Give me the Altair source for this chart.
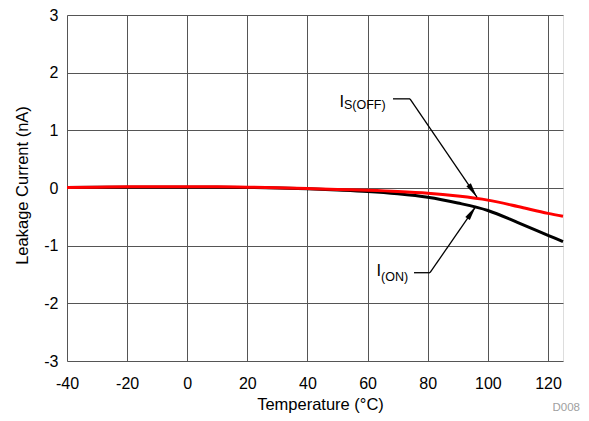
import altair as alt
import pandas as pd

# ---- data ----
temps = [-40, -30, -20, -10, 0, 10, 20, 30, 40, 50, 60, 70, 80, 90, 100, 110, 120, 125]
i_on = [0.01, 0.012, 0.015, 0.015, 0.015, 0.015, 0.01, 0.0, -0.015, -0.035, -0.06,
        -0.1, -0.16, -0.26, -0.39, -0.6, -0.82, -0.93]
is_off = [0.01, 0.015, 0.02, 0.02, 0.02, 0.02, 0.015, 0.005, -0.01, -0.025, -0.04,
          -0.06, -0.09, -0.14, -0.21, -0.32, -0.44, -0.49]
x_ticks = [-40, -20, 0, 20, 40, 60, 80, 100, 120]
y_ticks = [-3, -2, -1, 0, 1, 2, 3]

# annotation anchors (data coordinates)
lead_x = [68.45, 74.1, 75.44, 80.76]
lead_y = [1.546, 1.546, -1.469, -1.469]
tip_x = [96.39, 96.06]
tip_y = [-0.159, -0.313]
head_x = [95.0, 94.66]
head_y = [-0.052, -0.420]
head_angle = [146.0, 34.35]

FONT = "Liberation Sans, Arial, Helvetica, sans-serif"

df_on = pd.DataFrame({"T": temps, "I": i_on})
df_off = pd.DataFrame({"T": temps, "I": is_off})

xs = alt.Scale(domain=[-40, 125], nice=False, zero=False)
ys = alt.Scale(domain=[-3, 3], nice=False, zero=False)

x_enc = alt.X("T:Q", scale=xs, axis=alt.Axis(
    values=x_ticks, title="Temperature (°C)", grid=True, ticks=False, domain=False,
    labelExpr="datum.value + ''",
    labelFontSize=16, labelPadding=14, labelColor="black", labelFont=FONT,
    labelFlush=False,
    titleFontSize=16.5, titleFontWeight="normal", titleColor="black", titleFont=FONT,
    titleX=253, titleY=48.5, titleBaseline="alphabetic", titleAlign="center",
    gridColor="#555", gridWidth=1, gridOpacity=1))
y_enc = alt.Y("I:Q", scale=ys, axis=alt.Axis(
    values=y_ticks, title="Leakage Current (nA)", grid=True, ticks=False, domain=False,
    labelExpr="datum.value + ''",
    labelFontSize=16, labelPadding=9, labelColor="black", labelFont=FONT,
    labelFlush=False,
    titleFontSize=16.5, titleFontWeight="normal", titleColor="black", titleFont=FONT,
    titleX=-40, titleY=170, titleBaseline="alphabetic", titleAlign="center", titleAngle=270,
    gridColor="#555", gridWidth=1, gridOpacity=1))

line_on = alt.Chart(df_on).mark_line(color="black", strokeWidth=3, interpolate="monotone").encode(
    x=x_enc, y=y_enc)
line_off = alt.Chart(df_off).mark_line(color="#ff0000", strokeWidth=3, interpolate="monotone").encode(
    x=alt.X("T:Q", scale=xs), y=alt.Y("I:Q", scale=ys))

# leader lines: horizontal part and diagonal part
seg = pd.DataFrame({
    "x": [lead_x[0], lead_x[1], lead_x[2], lead_x[3]],
    "y": [lead_y[0], lead_y[1], lead_y[2], lead_y[3]],
    "x2": [lead_x[1], tip_x[0], lead_x[3], tip_x[1]],
    "y2": [lead_y[1], tip_y[0], lead_y[3], tip_y[1]],
})
leaders = alt.Chart(seg).mark_rule(color="black", strokeWidth=1.3).encode(
    x=alt.X("x:Q", scale=xs), y=alt.Y("y:Q", scale=ys),
    x2="x2:Q", y2="y2:Q")

heads_df = pd.DataFrame({"x": head_x, "y": head_y, "a": head_angle})
heads = alt.Chart(heads_df).mark_point(
    shape="M0,-1L0.36,1L-0.36,1Z", filled=True, color="black", opacity=1, size=225,
    strokeWidth=0).encode(
    x=alt.X("x:Q", scale=xs), y=alt.Y("y:Q", scale=ys), angle=alt.Angle("a:Q", scale=None))

main_lbl = pd.DataFrame({"x": [50.66, 62.96], "y": [1.403, -1.532], "t": ["I", "I"]})
sub_lbl = pd.DataFrame({"x": [52.15, 64.46], "y": [1.369, -1.618], "t": ["S(OFF)", "(ON)"]})
lbl_main = alt.Chart(main_lbl).mark_text(
    align="left", baseline="alphabetic", fontSize=16.5, font=FONT, color="black").encode(
    x=alt.X("x:Q", scale=xs), y=alt.Y("y:Q", scale=ys), text="t:N")
lbl_sub = alt.Chart(sub_lbl).mark_text(
    align="left", baseline="alphabetic", fontSize=12.5, font=FONT, color="black").encode(
    x=alt.X("x:Q", scale=xs), y=alt.Y("y:Q", scale=ys), text="t:N")

tag = alt.Chart(pd.DataFrame({"t": ["D008"]})).mark_text(
    align="right", baseline="alphabetic", fontSize=11.5, font=FONT, color="#a0a0a0").encode(
    x=alt.value(513), y=alt.value(396), text="t:N")

chart = alt.layer(line_on, line_off, leaders, heads, lbl_main, lbl_sub, tag).properties(
    width=496, height=346,
    autosize=alt.AutoSizeParams(type="none"),
    padding={"left": 59, "top": 7, "right": 18, "bottom": 52},
).configure_view(stroke="black", strokeWidth=3).configure(background="white")

chart.save("out.html", embed_options={"renderer": "svg", "actions": False})
